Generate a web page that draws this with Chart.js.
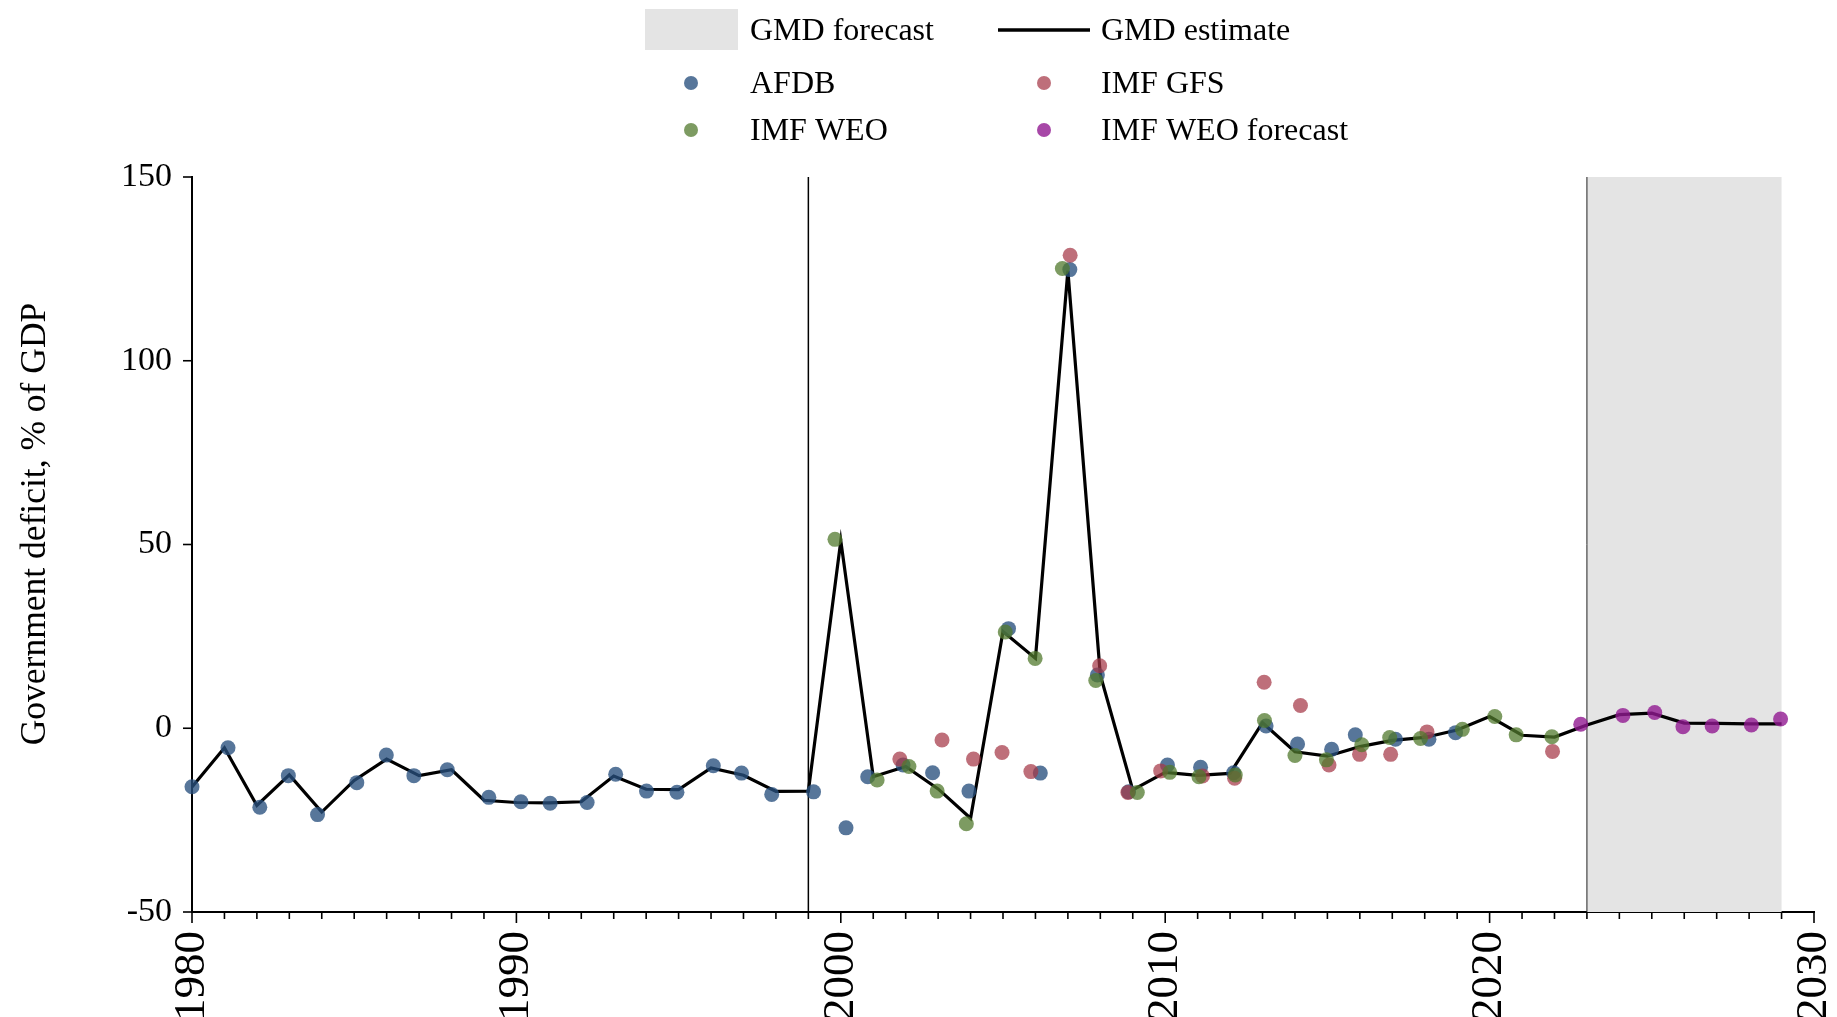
<!DOCTYPE html>
<html>
<head>
<meta charset="utf-8">
<script src="https://cdn.jsdelivr.net/npm/chart.js@4.4.1/dist/chart.umd.min.js"></script>
<style>
  html, body { margin: 0; padding: 0; background: #fff; }
  canvas { display: block; }
</style>
</head>
<body>
<canvas id="deficitChart" width="1837" height="1017"></canvas>
<script>
// GMD estimate (line), one value per year
const gmdYears = [1980, 1981, 1982, 1983, 1984, 1985, 1986, 1987, 1988, 1989,
  1990, 1991, 1992, 1993, 1994, 1995, 1996, 1997, 1998, 1999,
  2000, 2001, 2002, 2003, 2004, 2005, 2006, 2007, 2008, 2009,
  2010, 2011, 2012, 2013, 2014, 2015, 2016, 2017, 2018, 2019,
  2020, 2021, 2022, 2023, 2024, 2025, 2026, 2027, 2028, 2029];
const gmdValues = [-16.0, -5.3, -21.0, -12.7, -22.8, -14.2, -8.4, -12.9, -11.3, -19.6,
  -20.2, -20.3, -20.0, -13.0, -16.6, -16.7, -10.8, -12.8, -17.2, -17.1,
  51.0, -13.2, -10.4, -16.5, -24.5, 26.3, 19.0, 124.5, 14.5, -16.8,
  -12.0, -12.8, -12.3, 1.5, -6.4, -7.6, -5.0, -3.3, -2.5, -0.5,
  3.2, -1.9, -2.4, 0.9, 3.7, 4.1, 1.4, 1.3, 1.2, 1.2];

// source points (x positions are slightly jittered around the year, as drawn)
const afdbX = [1980.0, 1981.11, 1982.09, 1982.97, 1983.87, 1985.08, 1985.99, 1986.84, 1987.87, 1989.15,
  1990.14, 1991.04, 1992.18, 1993.06, 1994.01, 1994.95, 1996.07, 1996.94, 1997.87, 1999.16,
  2000.16, 2000.83, 2001.92, 2002.83, 2003.95, 2005.17, 2006.15, 2007.06, 2007.91, 2008.87,
  2010.07, 2011.09, 2012.11, 2013.11, 2014.08, 2015.13, 2015.86, 2017.10, 2018.13, 2018.95];
const afdbY = [-15.9, -5.3, -21.5, -12.9, -23.5, -14.8, -7.3, -12.9, -11.3, -18.8,
  -20.0, -20.4, -20.2, -12.5, -17.1, -17.4, -10.2, -12.2, -18.0, -17.3,
  -27.1, -13.2, -10.0, -12.1, -17.1, 27.1, -12.2, 124.8, 14.5, -17.3,
  -10.0, -10.6, -12.1, 0.6, -4.3, -5.7, -1.8, -3.0, -3.0, -1.2];

const gfsX = [2001.82, 2003.12, 2004.09, 2004.97, 2005.86, 2007.07, 2007.98, 2008.85, 2009.86, 2011.15,
  2012.14, 2013.05, 2014.17, 2015.05, 2015.99, 2016.95, 2018.07, 2021.94];
const gfsY = [-8.4, -3.2, -8.4, -6.6, -11.8, 128.7, 17.0, -17.5, -11.6, -13.0,
  -13.6, 12.5, 6.2, -10.0, -7.1, -7.1, -1.0, -6.3];

const weoX = [1999.82, 2001.12, 2002.10, 2002.97, 2003.87, 2005.07, 2005.99, 2006.83, 2007.86, 2009.14,
  2010.14, 2011.04, 2012.16, 2013.06, 2014.00, 2014.97, 2016.06, 2016.92, 2017.87, 2019.16,
  2020.16, 2020.82, 2021.92];
const weoY = [51.4, -14.1, -10.4, -17.1, -26.0, 26.2, 19.0, 125.1, 13.0, -17.5,
  -12.0, -13.2, -12.7, 2.1, -7.4, -8.6, -4.5, -2.5, -2.8, -0.3,
  3.2, -1.8, -2.3];

const weoFcX = [2022.81, 2024.11, 2025.09, 2025.96, 2026.86, 2028.07, 2028.97];
const weoFcY = [1.1, 3.5, 4.3, 0.4, 0.6, 0.9, 2.5];

const splitYear = 1999;
const forecastStart = 2023;
const forecastEnd = 2029;
const xMin = 1980, xMax = 2030;
const yMin = -50, yMax = 150;
const yTickValues = [-50, 0, 50, 100, 150];

const FONT = 'Liberation Serif';
const colAFDB = 'rgba(40, 80, 125, 0.78)';
const colGFS = 'rgba(165, 55, 70, 0.72)';
const colWEO = 'rgba(82, 122, 45, 0.75)';
const colWEOfc = 'rgba(145, 25, 145, 0.8)';
const DOT_R = 7.5;

const toPoints = (xs, ys) => xs.map((x, i) => ({ x: x, y: ys[i] }));

const dotStyle = (color) => ({
  backgroundColor: color,
  borderWidth: 0,
  pointRadius: DOT_R,
  pointHoverRadius: DOT_R,
  showLine: false,
  clip: false
});

const legendItems = [
  { label: 'GMD forecast', kind: 'patch', col: 0, row: 0 },
  { label: 'GMD estimate', kind: 'line', col: 1, row: 0 },
  { label: 'AFDB', kind: 'dot', color: colAFDB, col: 0, row: 1 },
  { label: 'IMF GFS', kind: 'dot', color: colGFS, col: 1, row: 1 },
  { label: 'IMF WEO', kind: 'dot', color: colWEO, col: 0, row: 2 },
  { label: 'IMF WEO forecast', kind: 'dot', color: colWEOfc, col: 1, row: 2 }
];

// shading, reference lines, tick marks, y title and legend
const decorations = {
  id: 'decorations',
  beforeDatasetsDraw(chart) {
    const { ctx, chartArea: a, scales: { x } } = chart;
    ctx.save();
    const x0 = x.getPixelForValue(forecastStart);
    const x1 = x.getPixelForValue(forecastEnd);
    ctx.fillStyle = '#e4e4e4';
    ctx.fillRect(x0, a.top, x1 - x0, a.bottom - a.top);

    ctx.strokeStyle = '#000';
    ctx.lineWidth = 1.5;
    const xs = x.getPixelForValue(splitYear);
    ctx.beginPath();
    ctx.moveTo(xs, a.top);
    ctx.lineTo(xs, a.bottom);
    ctx.stroke();

    ctx.strokeStyle = '#222';
    ctx.lineWidth = 1;
    ctx.beginPath();
    ctx.moveTo(x0, a.top);
    ctx.lineTo(x0, a.bottom);
    ctx.stroke();
    ctx.restore();
  },
  afterDraw(chart) {
    const { ctx, chartArea: a, scales: { x, y } } = chart;
    ctx.save();
    ctx.strokeStyle = '#000';
    ctx.lineWidth = 1.6;
    // x ticks: every year, longer every decade
    for (let yr = xMin; yr <= xMax; yr++) {
      const px = x.getPixelForValue(yr);
      const len = yr % 10 === 0 ? 11 : 7;
      ctx.beginPath();
      ctx.moveTo(px, a.bottom);
      ctx.lineTo(px, a.bottom + len);
      ctx.stroke();
    }
    yTickValues.forEach(v => {
      const py = y.getPixelForValue(v);
      ctx.beginPath();
      ctx.moveTo(a.left - 9, py);
      ctx.lineTo(a.left, py);
      ctx.stroke();
    });

    // y axis title
    ctx.fillStyle = '#000';
    ctx.font = '35.5px "' + FONT + '"';
    ctx.textAlign = 'center';
    ctx.textBaseline = 'middle';
    ctx.translate(36, 524);
    ctx.rotate(-Math.PI / 2);
    ctx.fillText('Government deficit, % of GDP', 0, 0);
    ctx.restore();

    // legend
    ctx.save();
    const colMark = [691, 1044];
    const colText = [750, 1101];
    const rowY = [30, 83, 130];
    ctx.font = '32px "' + FONT + '"';
    ctx.textAlign = 'left';
    ctx.textBaseline = 'middle';
    legendItems.forEach(it => {
      const cx = colMark[it.col];
      const cy = rowY[it.row];
      if (it.kind === 'patch') {
        ctx.fillStyle = '#e4e4e4';
        ctx.fillRect(cx - 46, cy - 21, 93, 41);
      } else if (it.kind === 'line') {
        ctx.strokeStyle = '#000';
        ctx.lineWidth = 3.5;
        ctx.beginPath();
        ctx.moveTo(cx - 46, cy);
        ctx.lineTo(cx + 46, cy);
        ctx.stroke();
      } else {
        ctx.fillStyle = it.color;
        ctx.beginPath();
        ctx.arc(cx, cy, 7, 0, Math.PI * 2);
        ctx.fill();
      }
      ctx.fillStyle = '#000';
      ctx.fillText(it.label, colText[it.col], cy + 2);
    });
    ctx.restore();
  }
};

new Chart(document.getElementById('deficitChart'), {
  type: 'scatter',
  data: {
    datasets: [
      {
        label: 'GMD estimate',
        data: toPoints(gmdYears, gmdValues),
        showLine: true,
        borderColor: '#000',
        borderWidth: 3.2,
        pointRadius: 0,
        tension: 0,
        order: 5,
        clip: false
      },
      Object.assign({ label: 'AFDB', data: toPoints(afdbX, afdbY), order: 4 }, dotStyle(colAFDB)),
      Object.assign({ label: 'IMF GFS', data: toPoints(gfsX, gfsY), order: 3 }, dotStyle(colGFS)),
      Object.assign({ label: 'IMF WEO', data: toPoints(weoX, weoY), order: 2 }, dotStyle(colWEO)),
      Object.assign({ label: 'IMF WEO forecast', data: toPoints(weoFcX, weoFcY), order: 1 }, dotStyle(colWEOfc))
    ]
  },
  options: {
    responsive: false,
    animation: false,
    devicePixelRatio: 1,
    layout: { padding: { top: 177, right: 23, left: 0, bottom: 0 } },
    plugins: { legend: { display: false }, tooltip: { enabled: false } },
    scales: {
      x: {
        type: 'linear',
        min: xMin,
        max: xMax,
        grid: { display: false, drawTicks: false },
        border: { display: true, color: '#000', width: 2 },
        ticks: {
          stepSize: 1,
          autoSkip: false,
          minRotation: 90,
          maxRotation: 90,
          padding: 19,
          color: '#000',
          font: { family: FONT, size: 45 },
          callback: v => (v % 10 === 0 ? String(v) : '')
        },
        afterFit: s => {
          s.height = 105;
          s.paddingLeft = 0;
          s.paddingRight = 0;
        }
      },
      y: {
        min: yMin,
        max: yMax,
        grid: { display: false, drawTicks: false },
        border: { display: true, color: '#000', width: 2 },
        ticks: {
          stepSize: 50,
          padding: 20,
          color: '#000',
          font: { family: FONT, size: 34 }
        },
        afterFit: s => { s.width = 192; }
      }
    }
  },
  plugins: [decorations]
});
</script>
</body>
</html>
